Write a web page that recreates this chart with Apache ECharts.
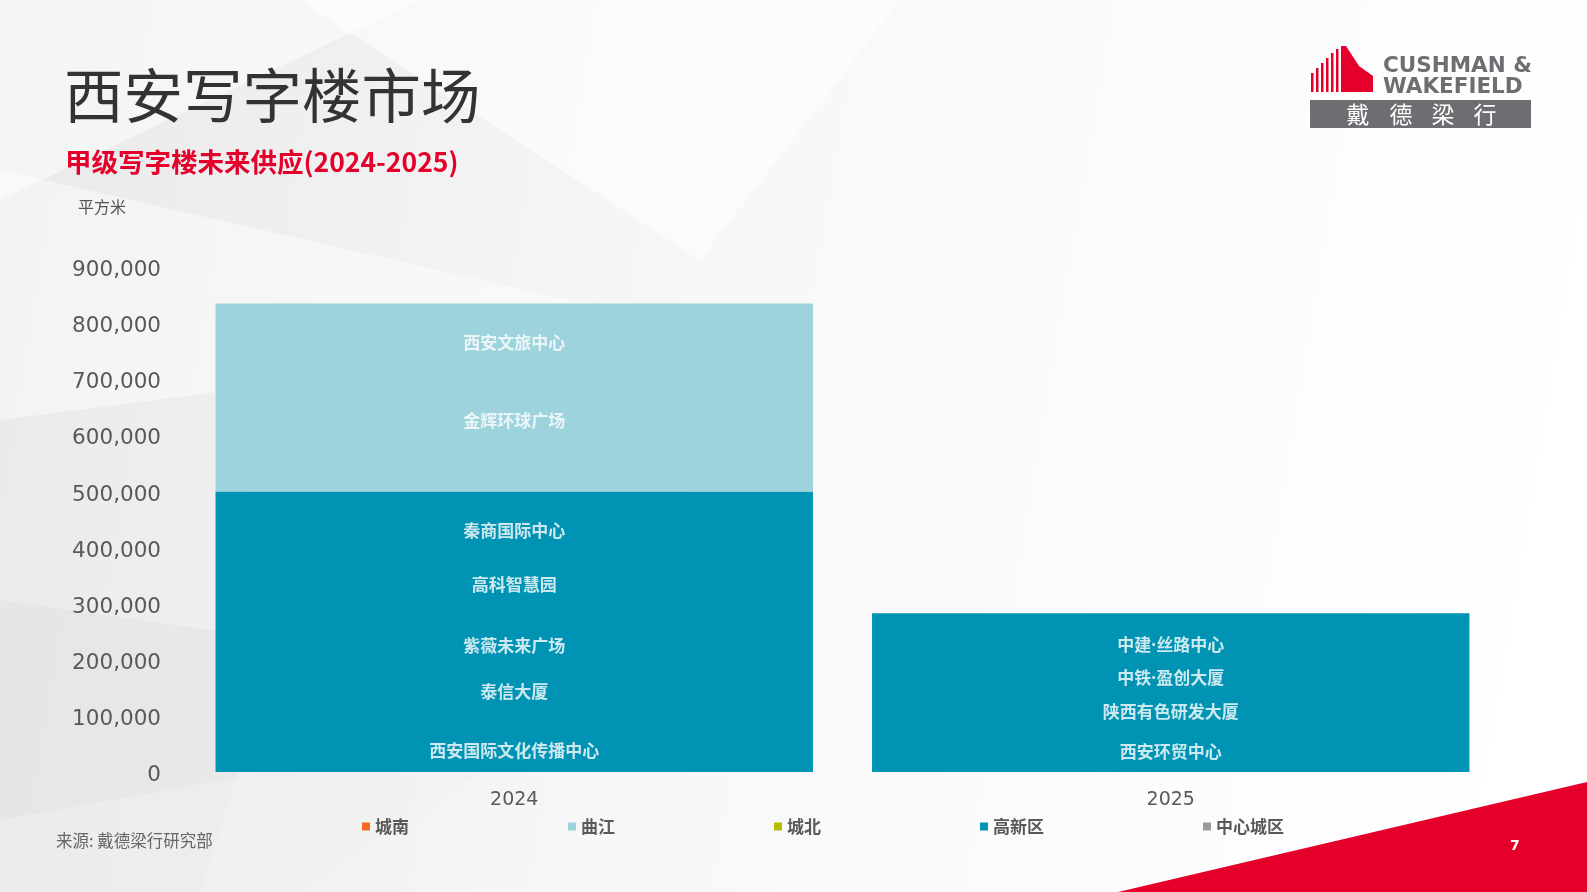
<!DOCTYPE html>
<html><head><meta charset="utf-8">
<script src="https://cdn.jsdelivr.net/npm/echarts@6/dist/echarts.min.js"></script>
<style>html,body{margin:0;padding:0;}#c{width:1587px;height:892px;}</style>
</head><body><div id="c"></div>
<script>
var categories = ['2024', '2025'];
var legendNames = ['城南', '曲江', '城北', '高新区', '中心城区'];
var colors = {'城南': '#F26B21', '曲江': '#9CD3DC', '城北': '#B5BD00', '高新区': '#0093B4', '中心城区': '#9A9A9A'};
// series values (平方米)
var gaoxin = [500000, 283000];
var qujiang = [335000, 0];
var chengnan = [0, 0];
var chengbei = [0, 0];
var zhongxin = [0, 0];
var yTicks = [0, 100000, 200000, 300000, 400000, 500000, 600000, 700000, 800000, 900000];
// project labels: [category index, value position, name]
var projectLabels = [
  [0, 762000, '西安文旅中心'],
  [0, 623000, '金辉环球广场'],
  [0, 428000, '秦商国际中心'],
  [0, 332000, '高科智慧园'],
  [0, 223000, '紫薇未来广场'],
  [0, 140000, '泰信大厦'],
  [0, 36000, '西安国际文化传播中心'],
  [1, 225000, '中建·丝路中心'],
  [1, 165000, '中铁·盈创大厦'],
  [1, 104000, '陕西有色研发大厦'],
  [1, 34000, '西安环贸中心']
];

var chart = echarts.init(document.getElementById('c'), null, {renderer: 'canvas'});
var cjk = '"Noto Sans CJK SC", "Noto Sans", sans-serif';
var latinFirst = '"Noto Sans", "Noto Sans CJK SC", sans-serif';
var num = '"DejaVu Sans", "Open Sans", sans-serif';

function bar(name, data) {
  return {name: name, type: 'bar', stack: 'total', data: data, barWidth: '91%',
    itemStyle: {color: colors[name]}, emphasis: {disabled: true}};
}

var bgGraphics = [
  {type: 'rect', shape: {x: 0, y: 0, width: 1587, height: 892}, z: -100,
   style: {fill: new echarts.graphic.LinearGradient(0, 0, 1, 0.3, [
     {offset: 0, color: '#e9e9e9'}, {offset: 0.45, color: '#f7f7f7'}, {offset: 1, color: '#ffffff'}])}},
  {type: 'polygon', z: -99, shape: {points: [[0, 170], [700, 330], [0, 420]]}, style: {fill: 'rgba(255,255,255,0.45)'}},
  {type: 'polygon', z: -99, shape: {points: [[0, 600], [280, 640], [200, 892], [0, 892]]}, style: {fill: 'rgba(220,220,220,0.35)'}},
  {type: 'polygon', z: -99, shape: {points: [[0, 0], [420, 0], [0, 200]]}, style: {fill: 'rgba(255,255,255,0.5)'}},
  {type: 'polygon', z: -99, shape: {points: [[300, 0], [900, 0], [700, 260]]}, style: {fill: 'rgba(255,255,255,0.55)'}},
  {type: 'polygon', z: -99, shape: {points: [[0, 820], [560, 720], [300, 892], [0, 892]]}, style: {fill: 'rgba(240,240,240,0.6)'}},
  // red corner triangle
  {type: 'polygon', z: 1, shape: {points: [[1118, 892], [1587, 782], [1587, 892]]}, style: {fill: '#E4002B'}},
  {type: 'text', z: 2, left: 1510, top: 839, style: {text: '7', fill: '#ffffff', font: 'bold 14px ' + num}},
  // titles
  {type: 'text', left: 64, top: 66, style: {text: '西安写字楼市场', fill: '#333333', font: '59.5px ' + cjk}},
  {type: 'text', left: 65, top: 149, style: {text: '甲级写字楼未来供应(2024-2025)', fill: '#E4002B', font: 'bold 26.5px ' + cjk}},
  {type: 'text', left: 78, top: 199, style: {text: '平方米', fill: '#555555', font: '16px ' + cjk}},
  {type: 'text', left: 56, top: 832, style: {text: '来源: 戴德梁行研究部', fill: '#666666', font: '16.5px ' + cjk}},
  // logo
  {type: 'polygon', shape: {points: [[1341, 46], [1346, 46], [1359, 66], [1373, 76], [1373, 92], [1341, 92]]}, style: {fill: '#E4002B'}},
  {type: 'rect', shape: {x: 1311, y: 73, width: 2.5, height: 19}, style: {fill: '#E4002B'}},
  {type: 'rect', shape: {x: 1316, y: 68, width: 2.5, height: 24}, style: {fill: '#E4002B'}},
  {type: 'rect', shape: {x: 1321, y: 63, width: 2.5, height: 29}, style: {fill: '#E4002B'}},
  {type: 'rect', shape: {x: 1326, y: 58, width: 2.5, height: 34}, style: {fill: '#E4002B'}},
  {type: 'rect', shape: {x: 1331, y: 53, width: 2.5, height: 39}, style: {fill: '#E4002B'}},
  {type: 'rect', shape: {x: 1336, y: 49, width: 2.5, height: 43}, style: {fill: '#E4002B'}},
  {type: 'text', left: 1383, top: 55, style: {text: 'CUSHMAN &', fill: '#6d6e71', font: 'bold 21.5px ' + num}},
  {type: 'text', left: 1383, top: 76, style: {text: 'WAKEFIELD', fill: '#6d6e71', font: 'bold 21.5px ' + num}},
  {type: 'rect', shape: {x: 1310, y: 100, width: 221, height: 28}, style: {fill: '#6d6e71'}},
  {type: 'text', x: 1358, y: 114, style: {text: '戴', fill: '#ffffff', font: '23px ' + cjk, textAlign: 'center', textVerticalAlign: 'middle'}},
  {type: 'text', x: 1401, y: 114, style: {text: '德', fill: '#ffffff', font: '23px ' + cjk, textAlign: 'center', textVerticalAlign: 'middle'}},
  {type: 'text', x: 1443, y: 114, style: {text: '梁', fill: '#ffffff', font: '23px ' + cjk, textAlign: 'center', textVerticalAlign: 'middle'}},
  {type: 'text', x: 1485, y: 114, style: {text: '行', fill: '#ffffff', font: '23px ' + cjk, textAlign: 'center', textVerticalAlign: 'middle'}}
];

var option = {
  animation: false,
  backgroundColor: '#ffffff',
  graphic: {elements: bgGraphics},
  grid: {left: 186, right: 88, top: 267, bottom: 120, containLabel: false},
  legend: {
    data: legendNames, left: 357, top: 813, itemWidth: 8, itemHeight: 8, itemGap: 159,
    icon: 'rect', textStyle: {color: '#595959', fontSize: 17, fontWeight: 'bold', fontFamily: cjk}
  },
  xAxis: {
    type: 'category', data: categories,
    axisLine: {show: false}, axisTick: {show: false},
    axisLabel: {color: '#595959', fontSize: 19, fontFamily: num, margin: 19}
  },
  yAxis: {
    type: 'value', min: 0, max: 900000, interval: 100000,
    axisLine: {show: false}, axisTick: {show: false}, splitLine: {show: false},
    axisLabel: {color: '#595959', fontSize: 21.5, fontFamily: num, margin: 25,
      formatter: function (v) { return '{a|' + v.toLocaleString('en-US') + '}'; },
      rich: {a: {color: '#595959', fontSize: 21.5, fontFamily: num, padding: [7, 0, 0, 0]}}}
  },
  series: [
    bar('高新区', gaoxin),
    bar('曲江', qujiang),
    bar('城南', chengnan),
    bar('城北', chengbei),
    bar('中心城区', zhongxin),
    {
      name: 'labels', type: 'scatter', symbolSize: 0, z: 5,
      data: projectLabels.map(function (p) { return {value: [p[0], p[1]], name: p[2]}; }),
      label: {show: true, position: 'inside', formatter: '{b}', color: '#ffffff',
        fontSize: 17, fontWeight: 'bold', fontFamily: latinFirst},
      emphasis: {disabled: true}, silent: true
    }
  ]
};
chart.setOption(option);
</script></body></html>
